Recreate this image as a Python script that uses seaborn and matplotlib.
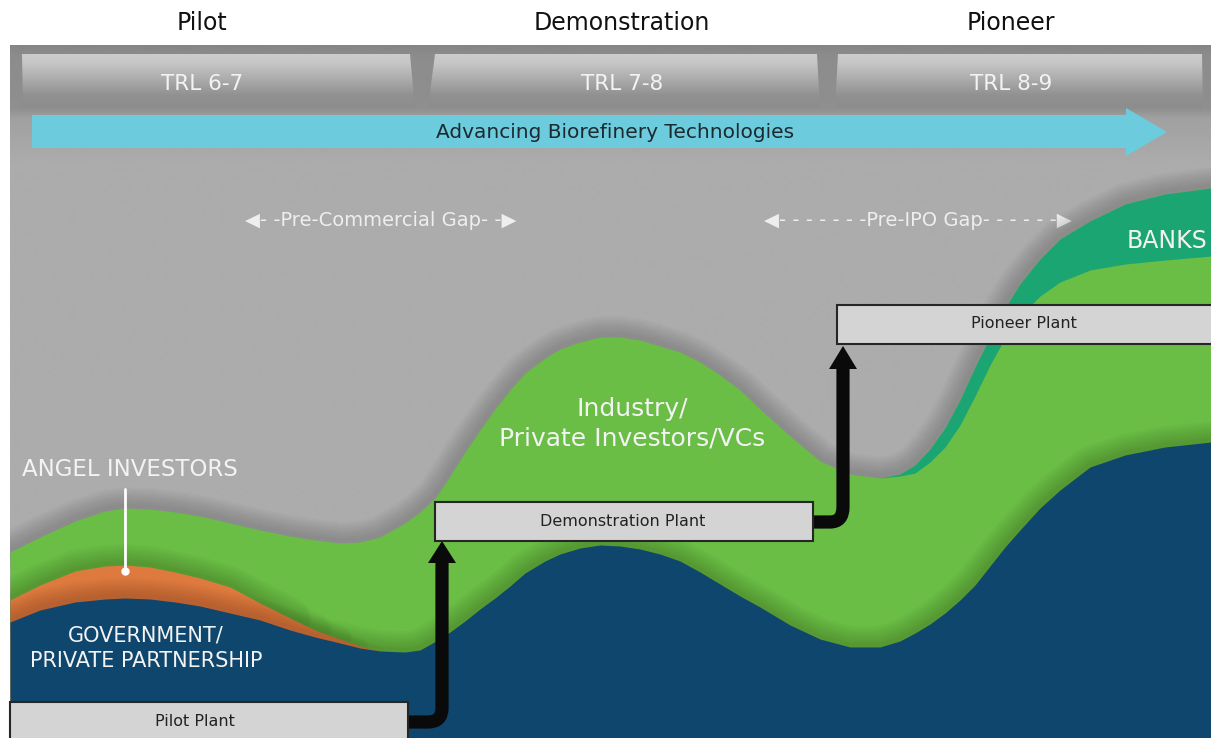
import numpy as np
import matplotlib
matplotlib.use("Agg")
import matplotlib.pyplot as plt
import seaborn as sns
from matplotlib.patches import Polygon, Rectangle, PathPatch
from matplotlib.path import Path

sns.set_style("white")
plt.rcParams['font.family'] = ['DejaVu Sans']

W, H = 1211, 738

# stage headers
stages = ['Pilot', 'Demonstration', 'Pioneer']
stage_x = [202, 622, 1011]
trl_labels = ['TRL 6-7', 'TRL 7-8', 'TRL 8-9']
trl_left_top = [22, 435, 838]
trl_left_bot = [23, 428, 835]
trl_right_top = [410, 817, 1202]
trl_right_bot = [415, 820, 1203]

# funding layers (pixel coords, y grows downward)
x_grid = [10, 40, 75, 105, 125, 150, 175, 200, 230, 260, 290, 315, 340, 360, 380,
          405, 420, 436, 450, 465, 480, 495, 510, 525, 545, 560, 580, 600, 620,
          640, 660, 680, 700, 720, 740, 760, 790, 820, 850, 880, 900, 915, 930,
          945, 960, 975, 990, 1005, 1020, 1040, 1060, 1090, 1125, 1165, 1211]
top_edge = [552, 537, 521, 511, 508, 509, 512, 516, 523, 530, 536, 540, 543, 542, 537,
            523, 512, 497, 476, 452, 430, 409, 390, 373, 358, 349, 342, 337, 337,
            340, 346, 352, 362, 375, 390, 409, 436, 461, 474, 478, 474, 465, 449,
            428, 400, 367, 337, 308, 284, 259, 239, 221, 204, 194, 188]
banks_low = [552, 537, 521, 511, 508, 509, 512, 516, 523, 530, 536, 540, 543, 542, 537,
             523, 512, 497, 476, 452, 430, 409, 390, 373, 358, 349, 342, 337, 337,
             340, 346, 352, 362, 375, 390, 409, 436, 461, 474, 478, 476, 473, 462,
             447, 425, 396, 365, 338, 316, 296, 282, 270, 264, 260, 256]
gov_top = [622, 610, 602, 599, 598, 599, 602, 606, 613, 620, 630, 637, 643, 648, 651,
           652, 650, 641, 632, 621, 609, 598, 586, 573, 561, 554, 548, 545, 546,
           549, 554, 561, 572, 584, 596, 607, 625, 639, 647, 647, 641, 633, 624,
           613, 600, 585, 566, 547, 530, 508, 490, 467, 455, 447, 442]
angel_x = [10, 40, 75, 105, 125, 150, 175, 200, 230, 260, 290, 315, 340, 360, 380]
angel_top = [600, 585, 571, 566, 565, 567, 572, 578, 587, 603, 618, 630, 639, 646, 651]

# plant boxes
plants = ['Pilot Plant', 'Demonstration Plant', 'Pioneer Plant']
plant_left = [10, 435, 837]
plant_right = [408, 813, 1216]
plant_top = [702, 502, 305]
plant_bottom = [745, 541, 344]
plant_text_x = [195, 623, 1024]

# step arrows between plants
arrow_paths = [[(408, 722), (428, 722), (442, 722), (442, 708), (442, 560)],
               [(813, 522), (830, 522), (843, 522), (843, 507), (843, 366)]]
arrow_heads = [[(428, 563), (456, 563), (442, 541)],
               [(829, 369), (857, 369), (843, 346)]]

GREEN = '#6abd45'
TEAL = '#1aa573'
BLUE = '#0f466d'
ORANGE = '#df7a3f'
CYAN = '#6ccbdc'
WHITE = '#f3f3f3'

fig = plt.figure(figsize=(W / 100, H / 100), dpi=100)
ax = fig.add_axes([0, 0, 1, 1])

panel_clip = Rectangle((10, 45), W - 10, H - 45, transform=ax.transData,
                       facecolor='none', edgecolor='none')
ax.add_patch(panel_clip)

# gray panel with vertical gradient
ys = np.arange(45, H + 1)
panel = np.interp(ys, [45, 56, 108, 118, 165, 738], [0.52, 0.55, 0.56, 0.63, 0.675, 0.675])
ax.imshow(panel[:, None], extent=(10, W, H, 45), cmap='gray', vmin=0, vmax=1,
          aspect='auto', zorder=1, interpolation='bilinear')

# header boxes
by = np.arange(54, 109)
box_grad = np.interp(by, [54, 62, 96, 108], [0.80, 0.78, 0.565, 0.55])
for i, lab in enumerate(trl_labels):
    poly = Polygon([(trl_left_top[i], 54), (trl_right_top[i], 54),
                    (trl_right_bot[i], 108), (trl_left_bot[i], 108)],
                   closed=True, facecolor='none', edgecolor='none')
    ax.add_patch(poly)
    im = ax.imshow(box_grad[:, None], extent=(trl_left_bot[i] - 5, trl_right_bot[i] + 5, 108, 54),
                   cmap='gray', vmin=0, vmax=1, aspect='auto', zorder=2, interpolation='bilinear')
    im.set_clip_path(poly)
    ax.text(stage_x[i], 84, lab, ha='center', va='center', fontsize=15.5, color=WHITE, zorder=3)
    ax.text(stage_x[i], 23, stages[i], ha='center', va='center', fontsize=17, color='#111111', zorder=3)

# cyan arrow
ax.add_patch(Polygon([(32, 115), (1126, 115), (1126, 108), (1167, 132), (1126, 156),
                      (1126, 148), (32, 148)], closed=True, facecolor=CYAN,
                     edgecolor='none', zorder=3))
ax.text(615, 132, 'Advancing Biorefinery Technologies', ha='center', va='center',
        fontsize=14.5, color='#1c2a30', zorder=4)

# gap labels
ax.text(381, 220, '◀- -Pre-Commercial Gap- -▶', ha='center', va='center',
        fontsize=14, color='#eeeeee', zorder=4)
ax.text(918, 220, '◀- - - - - - -Pre-IPO Gap- - - - - -▶', ha='center', va='center',
        fontsize=14, color='#eeeeee', zorder=4)


def shadow(xs, ys, z, taper=False):
    # soft shadow cast on the layer behind
    widths = list(range(30, 3, -3))
    for k, lw in enumerate(widths):
        end = len(xs) - (len(widths) - k) // 2 if taper else len(xs)
        n0 = len(ax.lines)
        sns.lineplot(x=xs[:end], y=ys[:end], ax=ax, color='black', lw=lw, alpha=0.02,
                     zorder=z, estimator=None, sort=False, solid_capstyle='round',
                     solid_joinstyle='round')
        for ln in ax.lines[n0:]:
            ln.set_clip_path(panel_clip)


# industry layer + banks
shadow(x_grid, top_edge, 5)
ax.fill_between(x_grid, top_edge, H, color=GREEN, lw=0, zorder=5.5)
ax.fill_between(x_grid, top_edge, banks_low, color=TEAL, lw=0, zorder=5.6)

# angel layer (shadow tapers where the layer thins out)
shadow(angel_x, angel_top, 6, taper=True)
ax.fill_between(angel_x, angel_top, H, color=ORANGE, lw=0, zorder=6.5)

# government layer
shadow(x_grid, gov_top, 7)
ax.fill_between(x_grid, gov_top, H, color=BLUE, lw=0, zorder=7.5)

# layer labels
ax.text(1127, 241, 'BANKS', ha='left', va='center', fontsize=17, color=WHITE, zorder=8)
ax.text(22, 470, 'ANGEL INVESTORS', ha='left', va='center', fontsize=16.5, color=WHITE, zorder=8)
ax.plot([125, 125], [489, 570], color='white', lw=2, zorder=8)
ax.plot([125], [571], 'o', color='white', ms=5, zorder=8)
ax.text(146, 648, 'GOVERNMENT/\nPRIVATE PARTNERSHIP', ha='center', va='center',
        fontsize=15, color=WHITE, linespacing=1.35, zorder=8)
ax.text(632, 424, 'Industry/\nPrivate Investors/VCs', ha='center', va='center',
        fontsize=18, color=WHITE, linespacing=1.3, zorder=8)

# arrows
for pts, head in zip(arrow_paths, arrow_heads):
    codes = [Path.MOVETO, Path.LINETO, Path.CURVE3, Path.CURVE3, Path.LINETO]
    ax.add_patch(PathPatch(Path(pts, codes), facecolor='none', edgecolor='#0a0a0a',
                           lw=9.5, capstyle='butt', joinstyle='round', zorder=9))
    ax.add_patch(Polygon(head, closed=True, facecolor='#0a0a0a', edgecolor='none', zorder=9))

# plant boxes
for i, name in enumerate(plants):
    ax.add_patch(Rectangle((plant_left[i], plant_top[i]), plant_right[i] - plant_left[i],
                           plant_bottom[i] - plant_top[i], facecolor='#d4d4d4',
                           edgecolor='#262626', lw=1.5, zorder=10))
    ty = plant_top[i] + 19 if i > 0 else 721
    ax.text(plant_text_x[i], ty, name, ha='center', va='center', fontsize=11.5,
            color='#222222', zorder=11)

ax.set_xlim(0, W)
ax.set_ylim(H, 0)
ax.axis('off')
fig.savefig('out.png', dpi=100, facecolor='white')
